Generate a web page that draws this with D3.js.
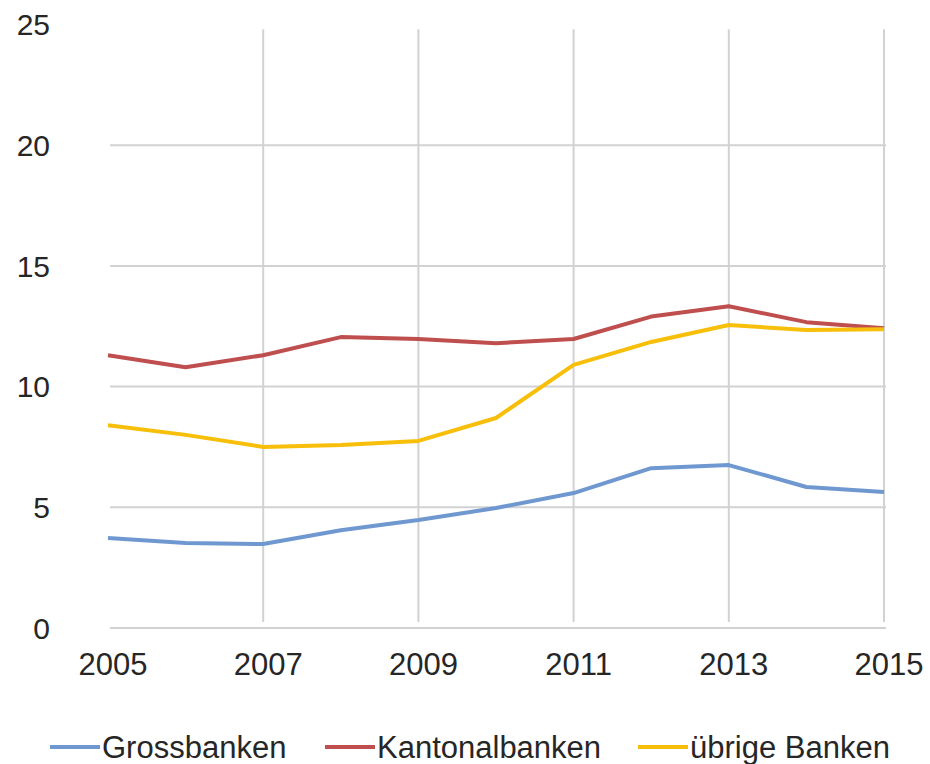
<!DOCTYPE html>
<html>
<head>
<meta charset="utf-8">
<script src="https://cdn.jsdelivr.net/npm/d3@7"></script>
<style>
  html, body { margin: 0; padding: 0; background: #fff; }
  svg { display: block; }
  text { font-family: "Liberation Sans", Arial, sans-serif; fill: #262626; }
</style>
</head>
<body>
<svg id="chart" width="930" height="764"></svg>
<script>
// Years on the x axis
const years = [2005, 2006, 2007, 2008, 2009, 2010, 2011, 2012, 2013, 2014, 2015];
const xTickYears = [2005, 2007, 2009, 2011, 2013, 2015];
const yTicks = [0, 5, 10, 15, 20, 25];

// Series values (per cent)
const grossbanken     = [3.73, 3.52, 3.48, 4.05, 4.47, 4.97, 5.59, 6.62, 6.75, 5.84, 5.63];
const kantonalbanken  = [11.3, 10.8, 11.3, 12.05, 11.97, 11.8, 11.97, 12.9, 13.33, 12.67, 12.42];
const uebrigeBanken   = [8.4, 8.0, 7.5, 7.58, 7.75, 8.7, 10.9, 11.85, 12.55, 12.34, 12.38];

const seriesNames  = ["Grossbanken", "Kantonalbanken", "übrige Banken"];
const seriesColors = ["#6f98d0", "#bf4e4e", "#f7bf0a"];
const seriesData   = [grossbanken, kantonalbanken, uebrigeBanken];

const svg = d3.select("#chart");

const x = d3.scaleLinear().domain([2005, 2015]).range([108, 884]);
const y = d3.scaleLinear().domain([0, 25]).range([628, 24.5]);

// Horizontal grid lines (none at the top value)
svg.append("g")
  .selectAll("line")
  .data(yTicks.filter(v => v < 25))
  .join("line")
  .attr("x1", 110).attr("x2", 886)
  .attr("y1", d => y(d)).attr("y2", d => y(d))
  .attr("stroke", "#d2d2d2").attr("stroke-width", 2);

// Vertical grid lines at labelled years, except the first
svg.append("g")
  .selectAll("line")
  .data(xTickYears.slice(1))
  .join("line")
  .attr("x1", d => x(d)).attr("x2", d => x(d))
  .attr("y1", y(24.8)).attr("y2", y(0.25))
  .attr("stroke", "#d2d2d2").attr("stroke-width", 2);

// Y axis labels
svg.append("g")
  .selectAll("text")
  .data(yTicks)
  .join("text")
  .attr("x", 50)
  .attr("y", d => y(d))
  .attr("dy", "0.36em")
  .attr("text-anchor", "end")
  .style("font-size", "30px")
  .text(d => d);

// X axis labels
svg.append("g")
  .selectAll("text")
  .data(xTickYears)
  .join("text")
  .attr("x", d => x(d) + 5)
  .attr("y", 675)
  .attr("text-anchor", "middle")
  .style("font-size", "31px")
  .text(d => d);

// Series lines
const line = d3.line()
  .x((d, i) => x(years[i]))
  .y(d => y(d));

svg.append("g")
  .selectAll("path")
  .data(seriesData)
  .join("path")
  .attr("d", d => line(d))
  .attr("fill", "none")
  .attr("stroke", (d, i) => seriesColors[i])
  .attr("stroke-width", 4)
  .attr("stroke-linejoin", "round");

// Legend
const legendX = [50, 325, 638];
const legend = svg.append("g")
  .selectAll("g")
  .data(seriesNames)
  .join("g")
  .attr("transform", (d, i) => `translate(${legendX[i]},747)`);

legend.append("line")
  .attr("x1", 0).attr("x2", 50)
  .attr("y1", 0).attr("y2", 0)
  .attr("stroke", (d, i) => seriesColors[i])
  .attr("stroke-width", 4);

legend.append("text")
  .attr("x", 52)
  .attr("y", 0)
  .attr("dy", "0.36em")
  .style("font-size", "31px")
  .text(d => d);
</script>
</body>
</html>
